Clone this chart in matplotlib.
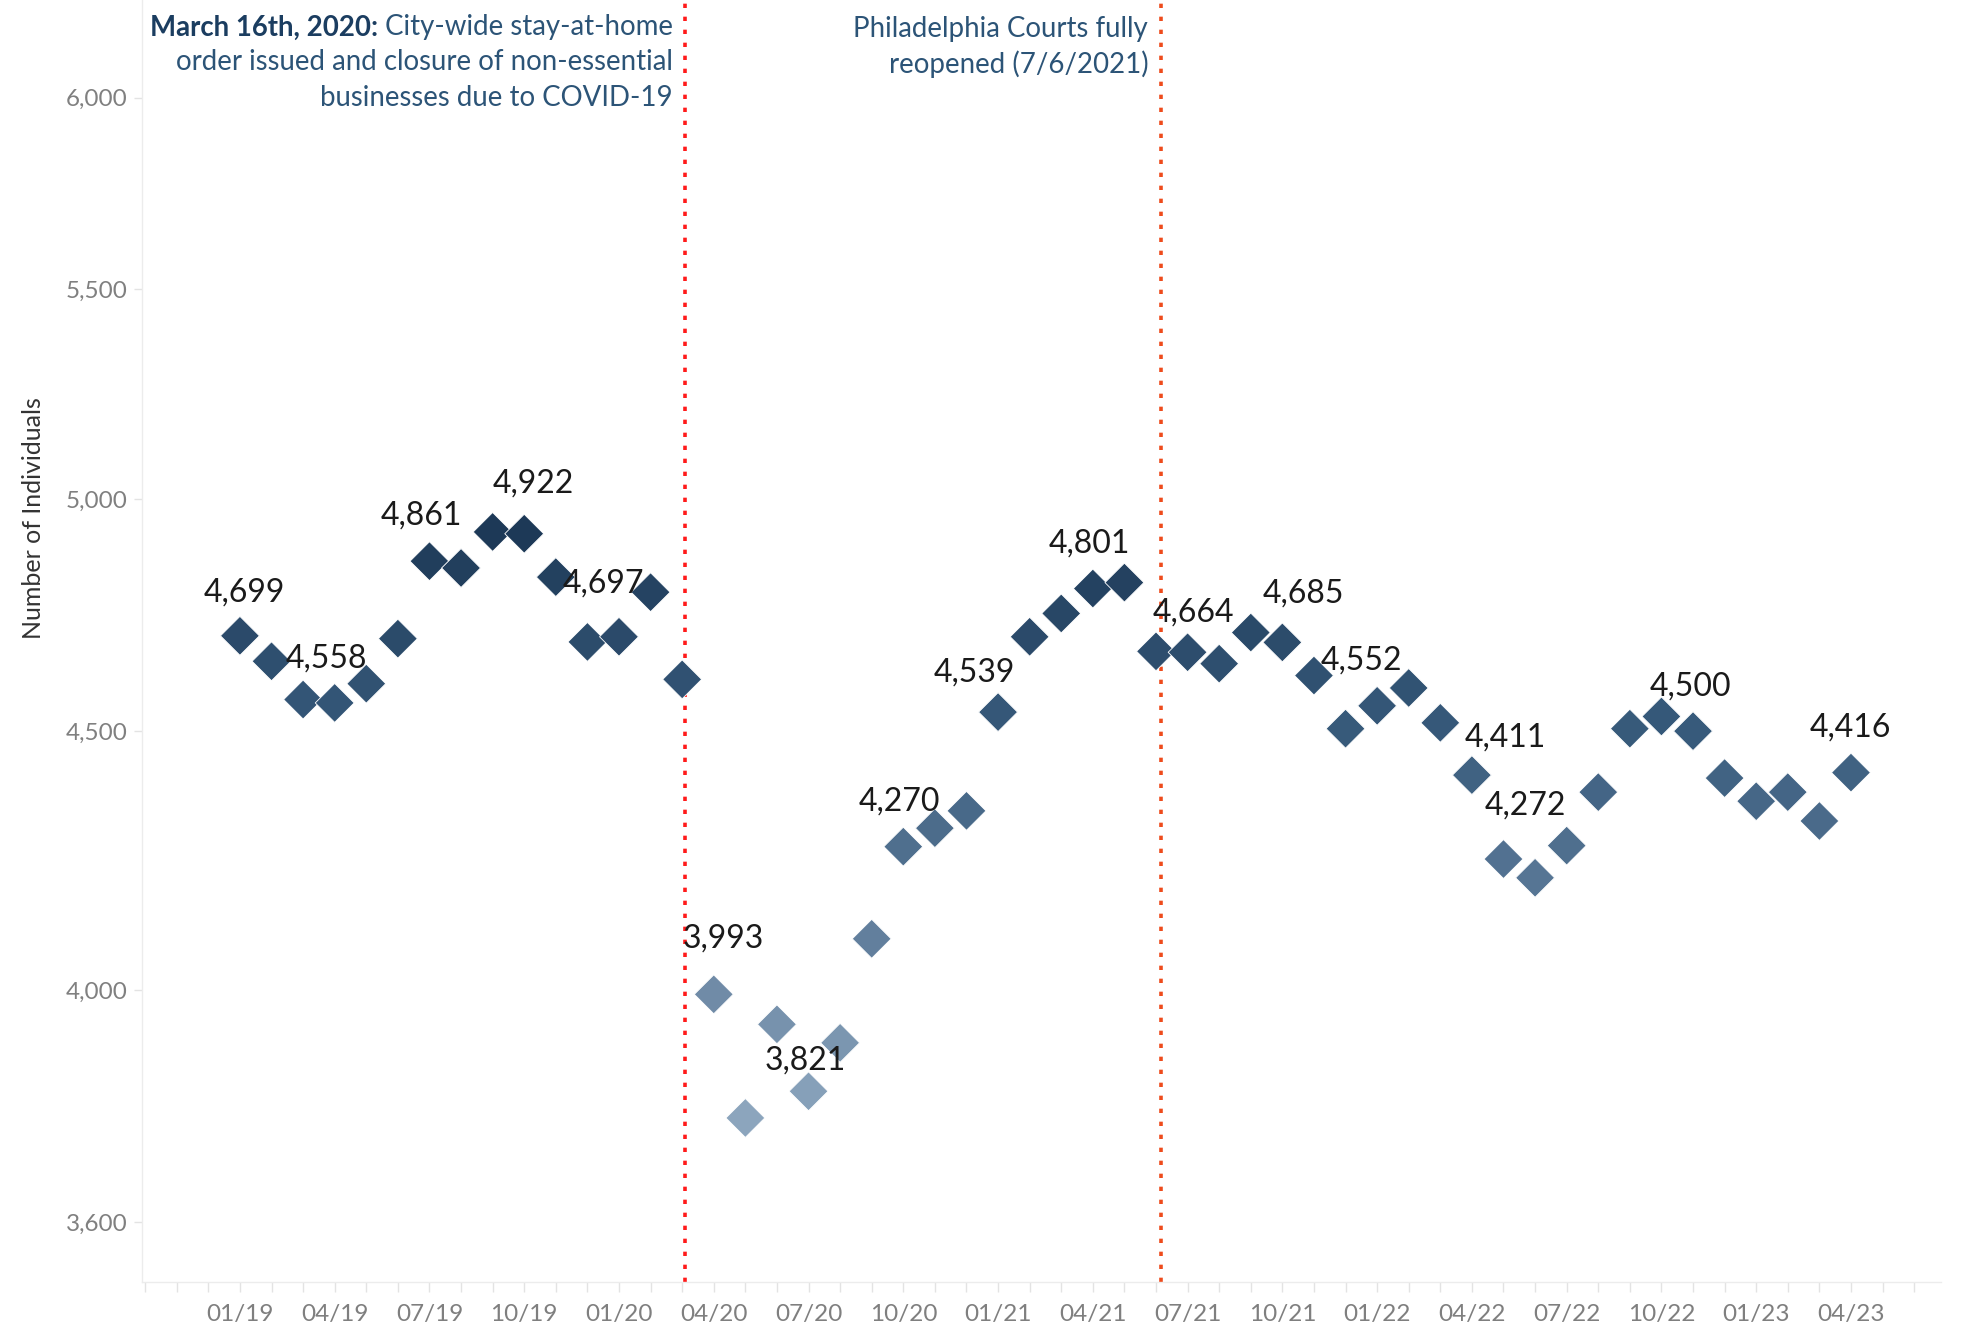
import numpy as np
import pandas as pd
import matplotlib
matplotlib.use("Agg")
import matplotlib.pyplot as plt
from matplotlib.colors import LinearSegmentedColormap, Normalize
from matplotlib.ticker import FixedLocator, NullFormatter

plt.rcParams['font.family'] = ['Lato', 'DejaVu Sans']

# ---------------- data ----------------
months = pd.date_range("2019-01-01", "2023-04-01", freq="MS")
individuals = [
    4699, 4645, 4565, 4558, 4598, 4693, 4861, 4846, 4926, 4922, 4826, 4686,   # 2019
    4697, 4793, 4607, 3993, 3775, 3939, 3821, 3906, 4095, 4270, 4306, 4340,   # 2020
    4539, 4697, 4747, 4801, 4814, 4666, 4664, 4640, 4706, 4685, 4615, 4505,   # 2021
    4552, 4589, 4517, 4411, 4246, 4210, 4272, 4377, 4505, 4530, 4500, 4405,   # 2022
    4359, 4377, 4320, 4416,                                                   # 2023
]
labeled_months = ["2019-01", "2019-04", "2019-07", "2019-10", "2020-01", "2020-04",
                  "2020-07", "2020-10", "2021-01", "2021-04", "2021-07", "2021-10",
                  "2022-01", "2022-04", "2022-07", "2022-11", "2023-04"]
tick_labels = ["01/19", "04/19", "07/19", "10/19", "01/20", "04/20", "07/20", "10/20",
               "01/21", "04/21", "07/21", "10/21", "01/22", "04/22", "07/22", "10/22",
               "01/23", "04/23"]
y_ticks = [3600, 4000, 4500, 5000, 5500, 6000]
event_positions = [14.1, 29.15]   # in month-index units on the axis

# label placement (pixels, dx, dy above point)
label_offsets = [(4, 43), (-8, 44), (-8, 46), (9, 50), (-16, 53), (9, 56), (-3, 31),
                 (-4, 45), (-24, 40), (-3, 45), (6, 40), (21, 49), (-16, 45),
                 (33, 38), (-41, 40), (-3, 45), (-1, 45)]

# ---------------- figure ----------------
W, H = 1966, 1329
fig = plt.figure(figsize=(W / 100, H / 100), dpi=100)
ax = fig.add_axes([142 / W, 47 / H, 1799 / W, 1282 / H])

x = np.arange(len(months))
vals = np.array(individuals)

cmap = LinearSegmentedColormap.from_list(
    "tab_blue", [(0.0, "#8ca5bd"), (0.28, "#627f9d"), (0.63, "#375a7b"), (1.0, "#1d3957")])
norm = Normalize(vmin=min(vals), vmax=max(vals))

ax.scatter(x, vals, marker="D", s=19.8 ** 2, c=cmap(norm(vals)),
           edgecolors="white", linewidths=0.6, zorder=3)

# data labels
month_keys = [m.strftime("%Y-%m") for m in months]
for key, (dx, dy) in zip(labeled_months, label_offsets):
    i = month_keys.index(key)
    ax.annotate(f"{individuals[i]:,}", xy=(x[i], individuals[i]),
                xytext=(dx * 0.72, dy * 0.72), textcoords="offset points",
                ha="center", va="center", fontsize=23, color="#1a1a1a", zorder=5)

# scales / limits
ax.set_yscale("log")
ax.set_ylim(3504, 6272)
ax.set_xlim(-3.1, 53.85)

ax.yaxis.set_major_locator(FixedLocator(y_ticks))
ax.yaxis.set_minor_locator(FixedLocator([]))
ax.set_yticklabels([f"{t:,}" for t in y_ticks])
ax.yaxis.set_minor_formatter(NullFormatter())

q_idx = [month_keys.index(m.strftime("%Y-%m")) for m in months if m.month in (1, 4, 7, 10)]
ax.xaxis.set_major_locator(FixedLocator(q_idx))
ax.set_xticklabels(tick_labels)
ax.xaxis.set_minor_locator(FixedLocator(np.arange(-3, 54)))

ax.tick_params(axis="y", which="major", length=6, width=1, color="#e3e3e3",
               labelsize=17.5, labelcolor="#808080", pad=4.5)
ax.tick_params(axis="x", which="both", length=7, width=1, color="#e3e3e3",
               labelsize=17.5, labelcolor="#7f7f7f", pad=9)

for s in ["top", "right"]:
    ax.spines[s].set_visible(False)
for s in ["left", "bottom"]:
    ax.spines[s].set_color("#ececec")
    ax.spines[s].set_linewidth(1)

fig.text(34 / W, 1 - 518 / H, "Number of Individuals", rotation=90, ha="center",
         va="center", fontsize=18, color="#333333")

# event lines
line_colors = ["#ff1a1a", "#ee4b1c"]
for xe, col in zip(event_positions, line_colors):
    ax.axvline(xe, color=col, linewidth=2.6, linestyle=(0, (1.2, 2.4)),
               zorder=2, dash_capstyle="butt")

# annotations
txt_col = "#2c5477"
bold_col = "#1b3d60"
trans = ax.get_xaxis_transform()
fs_ann = 19.9
t1 = ax.annotate(" City-wide stay-at-home", xy=(event_positions[0], 1.0), xycoords=trans,
                 xytext=(-9, -19.8), textcoords="offset points", ha="right", va="center",
                 fontsize=fs_ann, color=txt_col)
ax.annotate("March 16th, 2020:", xy=(0, 0.5), xycoords=t1, ha="right", va="center",
            fontsize=fs_ann, color=bold_col, fontweight="bold")
ax.annotate("order issued and closure of non-essential", xy=(event_positions[0], 1.0),
            xycoords=trans, xytext=(-9, -45), textcoords="offset points",
            ha="right", va="center", fontsize=fs_ann, color=txt_col)
ax.annotate("businesses due to COVID-19", xy=(event_positions[0], 1.0),
            xycoords=trans, xytext=(-9, -70.2), textcoords="offset points",
            ha="right", va="center", fontsize=fs_ann, color=txt_col)

ax.annotate("Philadelphia Courts fully", xy=(event_positions[1], 1.0), xycoords=trans,
            xytext=(-9, -21.2), textcoords="offset points", ha="right", va="center",
            fontsize=fs_ann, color=txt_col)
ax.annotate("reopened (7/6/2021)", xy=(event_positions[1], 1.0), xycoords=trans,
            xytext=(-9, -46.4), textcoords="offset points", ha="right", va="center",
            fontsize=fs_ann, color=txt_col)

fig.savefig("out.png", dpi=100, facecolor="white")
